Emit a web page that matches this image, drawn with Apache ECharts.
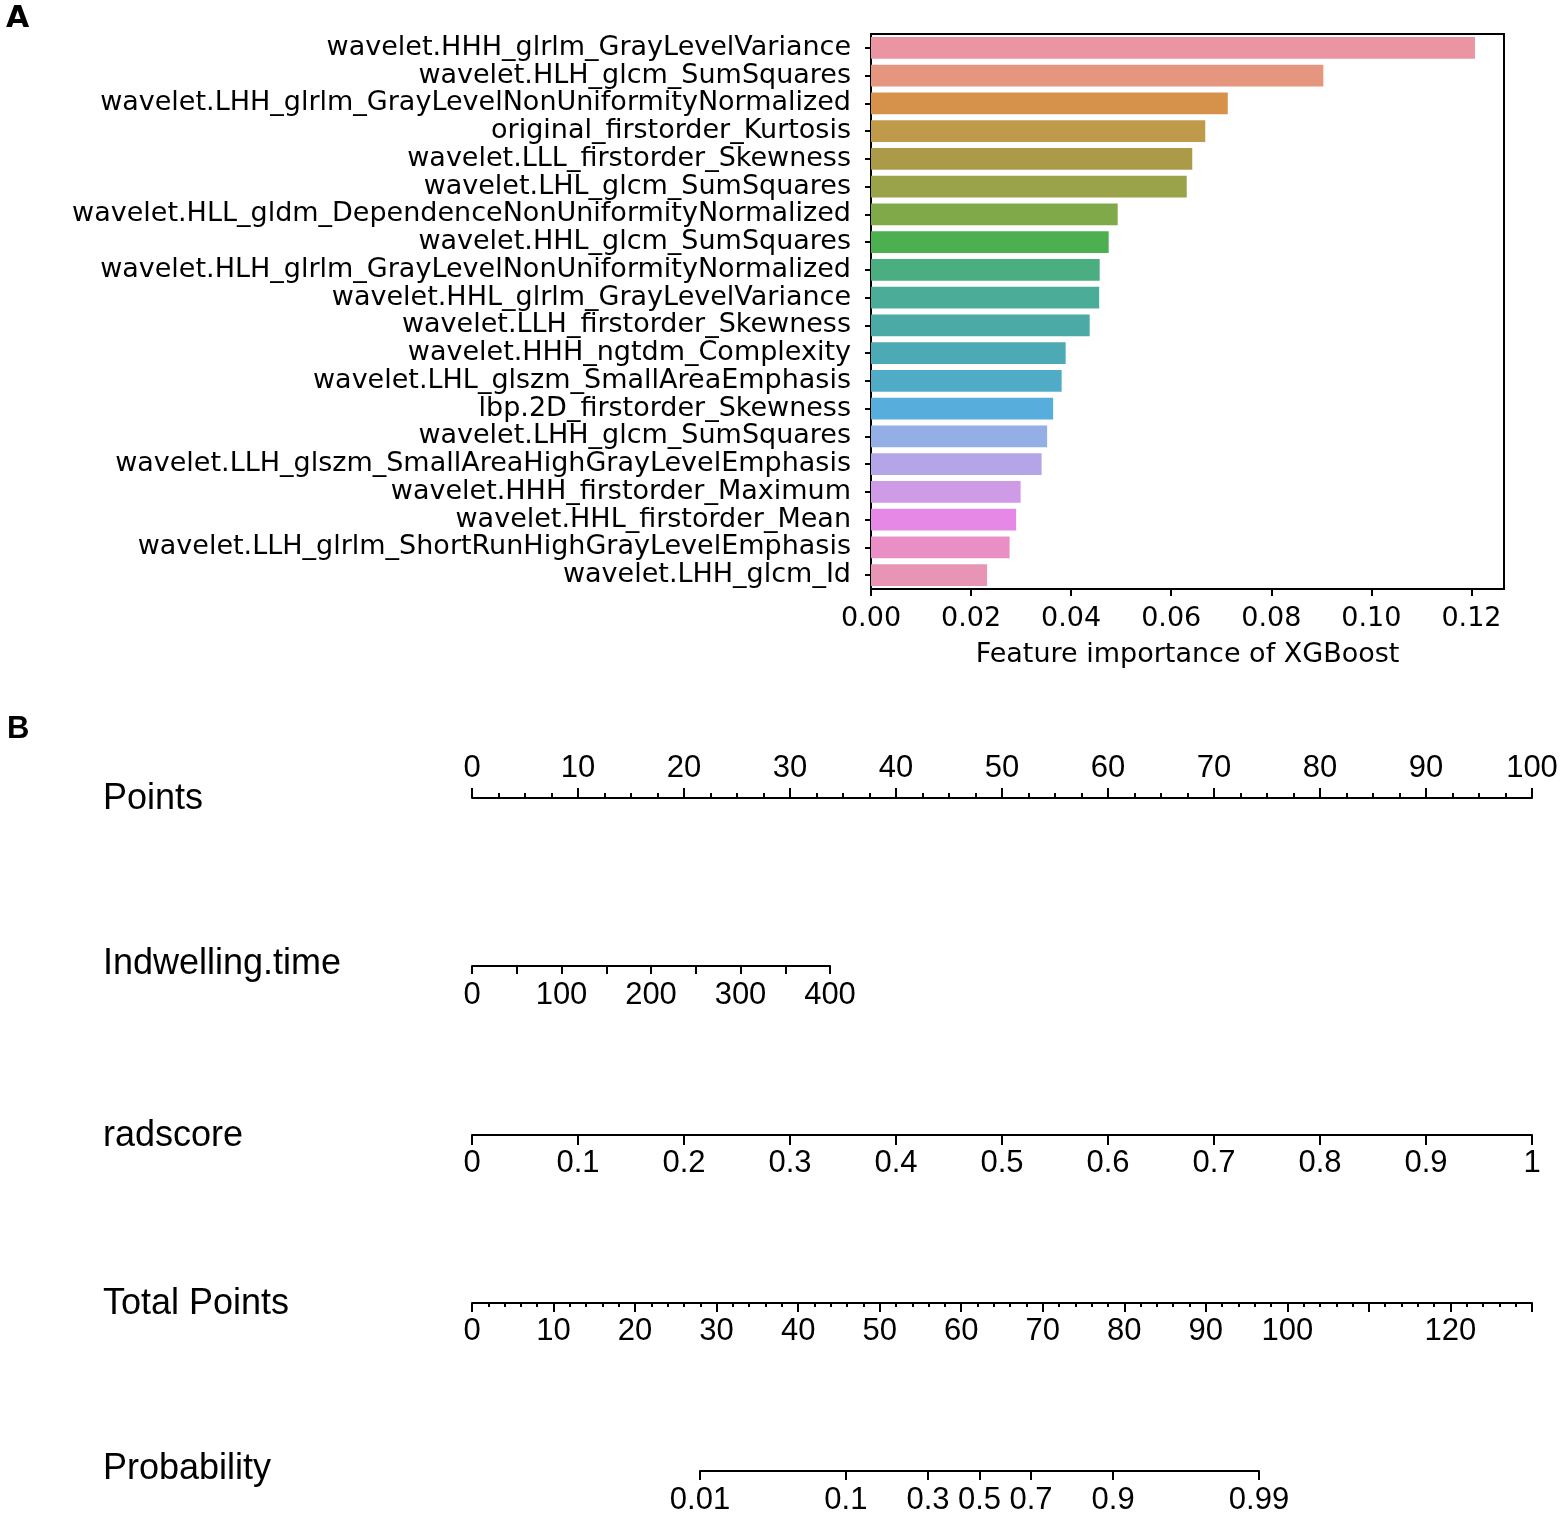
<!DOCTYPE html>
<html>
<head>
    <meta charset="UTF-8">
    <title>XGBoost feature importance and nomogram</title>
    <script type="text/javascript" src="https://cdn.jsdelivr.net/npm/echarts@6/dist/echarts.min.js"></script>
</head>
<body style="margin: 0; overflow: hidden; background: #fff;">
<div id="chart" style="width: 1566px; height: 1523px;"></div>
<script type="text/javascript">
    // panel A data
    var featureNames = [
        'wavelet.HHH_glrlm_GrayLevelVariance',
        'wavelet.HLH_glcm_SumSquares',
        'wavelet.LHH_glrlm_GrayLevelNonUniformityNormalized',
        'original_firstorder_Kurtosis',
        'wavelet.LLL_firstorder_Skewness',
        'wavelet.LHL_glcm_SumSquares',
        'wavelet.HLL_gldm_DependenceNonUniformityNormalized',
        'wavelet.HHL_glcm_SumSquares',
        'wavelet.HLH_glrlm_GrayLevelNonUniformityNormalized',
        'wavelet.HHL_glrlm_GrayLevelVariance',
        'wavelet.LLH_firstorder_Skewness',
        'wavelet.HHH_ngtdm_Complexity',
        'wavelet.LHL_glszm_SmallAreaEmphasis',
        'lbp.2D_firstorder_Skewness',
        'wavelet.LHH_glcm_SumSquares',
        'wavelet.LLH_glszm_SmallAreaHighGrayLevelEmphasis',
        'wavelet.HHH_firstorder_Maximum',
        'wavelet.HHL_firstorder_Mean',
        'wavelet.LLH_glrlm_ShortRunHighGrayLevelEmphasis',
        'wavelet.LHH_glcm_Id'
    ];
    var importance = [0.1207, 0.0904, 0.0713, 0.0668, 0.0642, 0.0631, 0.0493, 0.0475, 0.0457, 0.0456,
        0.0437, 0.0389, 0.0381, 0.0364, 0.0352, 0.0341, 0.0299, 0.0290, 0.0277, 0.0232];
    var barColors = ['#eb95a2', '#e5967f', '#d6924b', '#c09a4b', '#ab9b48', '#9aa24a', '#80aa49', '#4cb051',
        '#4aae80', '#4bad98', '#4caaa6', '#4caab5', '#50acc6', '#57addc', '#94aee6', '#b4a5e9',
        '#cf9ae6', '#e688e5', '#e98fc6', '#e894b4'];
    var importanceTicks = [0, 0.02, 0.04, 0.06, 0.08, 0.10, 0.12];

    // panel B (nomogram) scales
    var pointsRange = [0, 100];
    var indwellingRange = [0, 400];
    var indwellingLabels = [0, 100, 200, 300, 400];
    var radscoreRange = [0, 1];
    var totalRange = [0, 130];
    var totalLabels = [0, 10, 20, 30, 40, 50, 60, 70, 80, 90, 100, 120];
    var probTicks = [0.01, 0.1, 0.3, 0.5, 0.7, 0.9, 0.99];

    function logit(p) {
        return Math.log(p / (1 - p));
    }

    var black = '#000';
    var nomoFont = 'Liberation Sans';
    var tickText = {color: black, fontFamily: nomoFont, fontSize: 31};

    function nomoAxis(idx, range, opts) {
        var axis = {
            gridIndex: idx,
            type: 'value',
            min: range[0],
            max: range[1],
            position: opts.position || 'bottom',
            axisLine: {show: true, lineStyle: {color: black, width: 2}},
            axisTick: {show: true, length: opts.tickLen || 9, lineStyle: {color: black, width: 2}},
            axisLabel: Object.assign({margin: opts.margin || 13}, tickText),
            splitLine: {show: false}
        };
        if (opts.interval) axis.interval = opts.interval;
        if (opts.minor) {
            axis.minorTick = {show: true, splitNumber: opts.minor, length: opts.minorLen, lineStyle: {color: black, width: 2}};
            axis.minorSplitLine = {show: false};
        }
        if (opts.labels) axis.axisLabel.customValues = opts.labels;
        if (opts.ticks) axis.axisTick.customValues = opts.ticks;
        if (opts.formatter) axis.axisLabel.formatter = opts.formatter;
        return axis;
    }

    var chart = echarts.init(document.getElementById('chart'));

    var labelFont = '36px "Liberation Sans"';
    var option = {
        backgroundColor: '#fff',
        animation: false,
        grid: [
            {left: 871, top: 34, width: 633, height: 555, show: true, borderColor: black, borderWidth: 2, outerBoundsMode: 'none'},
            {left: 472, top: 797, width: 1060, height: 1, outerBoundsMode: 'none'},
            {left: 472, top: 965, width: 358, height: 1, outerBoundsMode: 'none'},
            {left: 472, top: 1134, width: 1060, height: 1, outerBoundsMode: 'none'},
            {left: 472, top: 1302, width: 1060, height: 1, outerBoundsMode: 'none'},
            {left: 700, top: 1470, width: 559, height: 1, outerBoundsMode: 'none'}
        ],
        xAxis: [
            {
                gridIndex: 0,
                type: 'value',
                min: 0,
                max: 0.1265,
                name: 'Feature importance of XGBoost',
                nameLocation: 'middle',
                nameGap: 52,
                nameTextStyle: {color: black, fontFamily: 'DejaVu Sans', fontSize: 27},
                axisLine: {show: true, lineStyle: {color: black, width: 2}},
                axisTick: {show: true, length: 7, lineStyle: {color: black, width: 2}, customValues: importanceTicks},
                axisLabel: {
                    color: black, fontFamily: 'DejaVu Sans', fontSize: 27, margin: 16,
                    customValues: importanceTicks,
                    formatter: function (v) { return v.toFixed(2); }
                },
                splitLine: {show: false}
            },
            nomoAxis(1, pointsRange, {position: 'top', interval: 10, minor: 4, tickLen: 10, minorLen: 5}),
            nomoAxis(2, indwellingRange, {interval: 50, tickLen: 8, labels: indwellingLabels, margin: 14}),
            nomoAxis(3, radscoreRange, {interval: 0.1, tickLen: 10}),
            nomoAxis(4, totalRange, {interval: 10, minor: 5, tickLen: 9, minorLen: 4, labels: totalLabels}),
            nomoAxis(5, [logit(probTicks[0]), logit(probTicks[probTicks.length - 1])], {
                tickLen: 9,
                margin: 14,
                ticks: probTicks.map(logit),
                labels: probTicks.map(logit),
                formatter: function (v) {
                    for (var i = 0; i < probTicks.length; i++) {
                        if (Math.abs(logit(probTicks[i]) - v) < 1e-6) return String(probTicks[i]);
                    }
                    return '';
                }
            })
        ],
        yAxis: [
            {
                gridIndex: 0,
                type: 'category',
                inverse: true,
                data: featureNames,
                axisLine: {show: true, lineStyle: {color: black, width: 2}},
                axisTick: {show: true, alignWithLabel: true, length: 6, lineStyle: {color: black, width: 2}},
                axisLabel: {interval: 0, color: black, fontFamily: 'DejaVu Sans', fontSize: 27, margin: 20},
                splitLine: {show: false}
            },
            {gridIndex: 1, type: 'value', show: false, min: 0, max: 1},
            {gridIndex: 2, type: 'value', show: false, min: 0, max: 1},
            {gridIndex: 3, type: 'value', show: false, min: 0, max: 1},
            {gridIndex: 4, type: 'value', show: false, min: 0, max: 1},
            {gridIndex: 5, type: 'value', show: false, min: 0, max: 1}
        ],
        series: [{
            type: 'bar',
            xAxisIndex: 0,
            yAxisIndex: 0,
            barCategoryGap: '22%',
            data: importance.map(function (v, i) {
                return {value: v, itemStyle: {color: barColors[i]}};
            })
        }],
        graphic: [
            {type: 'text', left: 6, top: 4, style: {text: 'A', font: 'bold 30px "DejaVu Sans"', fill: black}},
            {type: 'text', left: 7, top: 714, style: {text: 'B', font: 'bold 31px "Liberation Sans"', fill: black}},
            {type: 'text', left: 103, top: 781, style: {text: 'Points', font: labelFont, fill: black}},
            {type: 'text', left: 103, top: 946, style: {text: 'Indwelling.time', font: labelFont, fill: black}},
            {type: 'text', left: 103, top: 1118, style: {text: 'radscore', font: labelFont, fill: black}},
            {type: 'text', left: 103, top: 1286, style: {text: 'Total Points', font: labelFont, fill: black}},
            {type: 'text', left: 103, top: 1451, style: {text: 'Probability', font: labelFont, fill: black}}
        ]
    };
    chart.setOption(option);
</script>
</body>
</html>
